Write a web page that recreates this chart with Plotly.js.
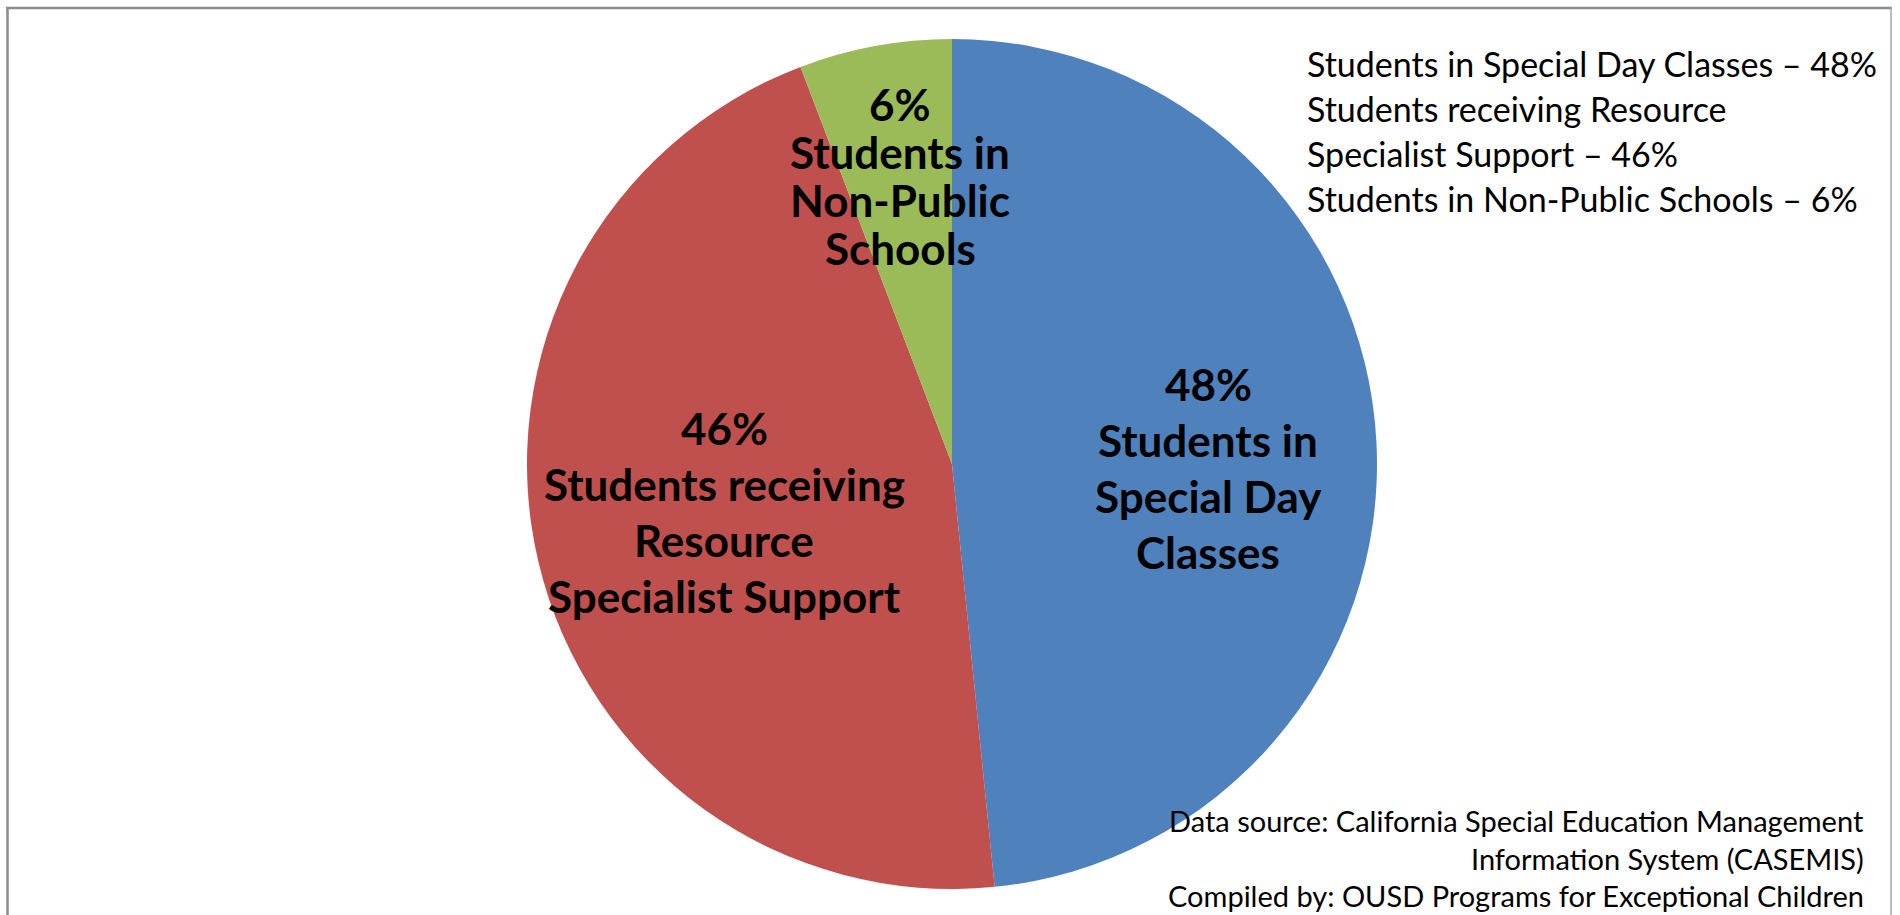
<!DOCTYPE html>
<html>
<head>
<meta charset="utf-8">
<script src="https://cdn.plot.ly/plotly-3.0.1.min.js"></script>
<style>
  html, body { margin: 0; padding: 0; background: #ffffff; }
  #chart { width: 1900px; height: 915px; }
</style>
</head>
<body>
<div id="chart"></div>
<script>
// ---- data ----
const categories = [
  "Students in Special Day Classes",
  "Students receiving Resource Specialist Support",
  "Students in Non-Public Schools"
];
// shares (labels show them rounded)
const values = [48.4, 45.8, 5.8];
const sliceColors = ["#4F81BD", "#C0504D", "#9BBB59"];
// wrapped label text shown inside the slices
const sliceLabelLines = [
  ["Students in", "Special Day", "Classes"],
  ["Students receiving", "Resource", "Specialist Support"],
  ["Students in", "Non-Public", "Schools"]
];
// wrapped text of the key (top right)
const keyLines = [
  ["Students in Special Day Classes"],
  ["Students receiving Resource", "Specialist Support"],
  ["Students in Non-Public Schools"]
];
const sourceLines = [
  "Data source: California Special Education Management",
  "Information System (CASEMIS)",
  "Compiled by: OUSD Programs for Exceptional Children"
];

// ---- layout helpers (pixel -> paper, margins are 0) ----
const W = 1900, H = 915;
const px = x => x / W;
const py = y => 1 - y / H;

const total = values.reduce((a, b) => a + b, 0);
const pct = v => Math.round(100 * v / total) + "%";

// pie geometry
const cx = 952, cy = 464, r = 425;

// slice label placement (first baseline, spacing)
const labelPos = [
  { x: 1208, y0: 400, dy: 56 },
  { x: 724,  y0: 444, dy: 56 },
  { x: 900,  y0: 120, dy: 48 }
];
const labelSize = 44;
const keySize = 34, keyX = 1305, keyY0 = 76, keyDy = 45;
const srcSize = 29, srcX = 1866, srcY0 = 831, srcDy = 37.5;

const annotations = [];
function addLine(text, x, baseline, size, bold, anchor) {
  annotations.push({
    xref: "paper", yref: "paper",
    x: px(x), y: py(baseline - 0.36 * size),
    xanchor: anchor, yanchor: "middle",
    text: bold ? "<b>" + text + "</b>" : text,
    showarrow: false,
    font: { family: "Lato, 'Open Sans', sans-serif", size: size, color: "#000000" }
  });
}

values.forEach((v, i) => {
  const lines = [pct(v)].concat(sliceLabelLines[i]);
  const p = labelPos[i];
  lines.forEach((t, k) => addLine(t, p.x, p.y0 + k * p.dy, labelSize, true, "center"));
});

let kline = 0;
keyLines.forEach((lines, i) => {
  lines.forEach((t, k) => {
    const txt = (k === lines.length - 1) ? t + " \u2013 " + pct(values[i]) : t;
    addLine(txt, keyX, keyY0 + kline * keyDy, keySize, false, "left");
    kline++;
  });
});

sourceLines.forEach((t, k) => addLine(t, srcX, srcY0 + k * srcDy, srcSize, false, "right"));

const trace = {
  type: "pie",
  labels: categories,
  values: values,
  sort: false,
  direction: "clockwise",
  rotation: 0,
  textinfo: "none",
  hoverinfo: "label+percent",
  marker: { colors: sliceColors, line: { width: 0 } },
  domain: { x: [px(cx - r), px(cx + r)], y: [py(cy + r), py(cy - r)] },
  showlegend: false
};

const layout = {
  width: W, height: H,
  margin: { l: 0, r: 0, t: 0, b: 0 },
  paper_bgcolor: "#ffffff",
  plot_bgcolor: "#ffffff",
  showlegend: false,
  annotations: annotations,
  shapes: [
    { type: "line", xref: "paper", yref: "paper", x0: px(7.5), x1: px(7.5), y0: py(7), y1: -0.1, line: { color: "#8c8c8c", width: 2.5 } },
    { type: "line", xref: "paper", yref: "paper", x0: px(6), x1: px(1892), y0: py(8), y1: py(8), line: { color: "#8c8c8c", width: 2.5 } },
    { type: "line", xref: "paper", yref: "paper", x0: px(1891), x1: px(1891), y0: py(7), y1: -0.1, line: { color: "#a6a6a6", width: 1.5 } }
  ]
};

Plotly.newPlot("chart", [trace], layout, { displayModeBar: false, staticPlot: true });
</script>
</body>
</html>
